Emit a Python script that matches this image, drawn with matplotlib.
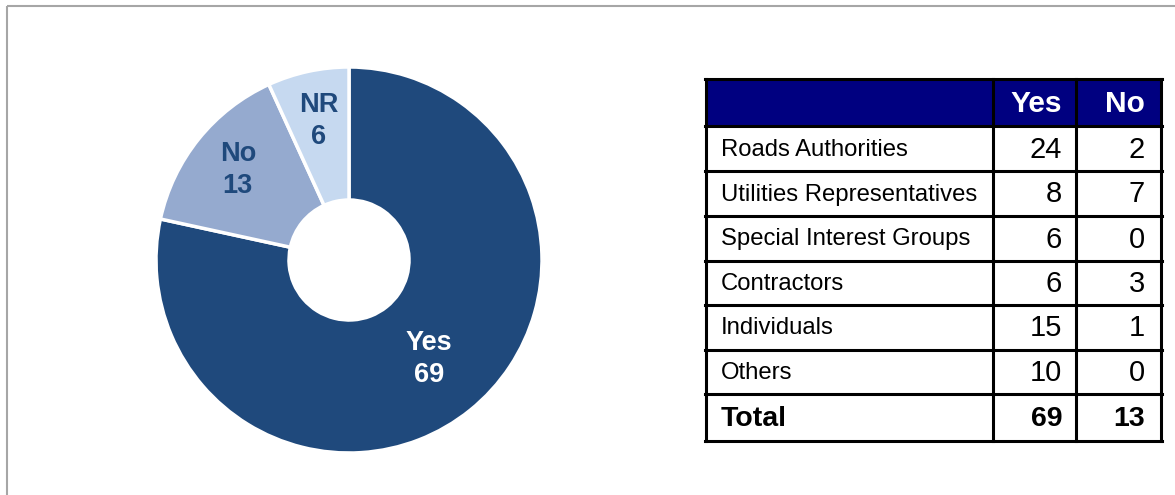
import matplotlib
matplotlib.use("Agg")
import matplotlib.pyplot as plt
from matplotlib.patches import Rectangle
import numpy as np

plt.rcParams['font.family'] = ['Liberation Sans', 'DejaVu Sans']

# Donut data
donut_labels = ["Yes", "No", "NR"]
donut_values = [69, 13, 6]
donut_colors = ["#1F497C", "#95AACF", "#C6D9F0"]
donut_text_colors = ["white", "#1F497C", "#1F497C"]

# Table data
table_header = ["", "Yes", "No"]
groups = ["Roads Authorities", "Utilities Representatives", "Special Interest Groups",
          "Contractors", "Individuals", "Others"]
yes_counts = [24, 8, 6, 6, 15, 10]
no_counts = [2, 7, 0, 3, 1, 0]
total_label = "Total"

W, H = 1175, 495
fig = plt.figure(figsize=(W / 100, H / 100), dpi=100)

# Full-figure pixel-space axes for frame and table
bg = fig.add_axes([0, 0, 1, 1])
bg.set_xlim(0, W)
bg.set_ylim(H, 0)
bg.axis("off")

# Outer gray frame (top and left edges visible)
frame_c = "#A6A6A6"
bg.plot([6.5, W], [5.5, 5.5], color=frame_c, lw=1.5, solid_capstyle="butt")
bg.plot([6.5, 6.5], [5.5, H], color=frame_c, lw=1.5, solid_capstyle="butt")

# Donut chart
cx, cy, R, r_in = 349, 260, 193, 60
half = 200
pie_ax = fig.add_axes([(cx - half) / W, (H - cy - half) / H, 2 * half / W, 2 * half / H])
wedges, _ = pie_ax.pie(donut_values, colors=donut_colors, startangle=90, counterclock=False,
                       radius=1.0,
                       wedgeprops=dict(width=(R - r_in) / R, edgecolor="white", linewidth=2.5))
lim = half / R
pie_ax.set_xlim(-lim, lim)
pie_ax.set_ylim(-lim, lim)
pie_ax.set_aspect("equal")

label_radii = [0.66, 0.74, 0.735]
for w, lab, val, tc, lr in zip(wedges, donut_labels, donut_values, donut_text_colors, label_radii):
    mid = np.deg2rad((w.theta1 + w.theta2) / 2)
    pie_ax.text(lr * np.cos(mid), lr * np.sin(mid), f"{lab}\n{val}", ha="center", va="center",
                color=tc, fontsize=19.5, fontweight="bold", linespacing=1.3)

# Table
col_x = [706, 993, 1076, 1161]
row_y = [79, 126, 171, 216, 261, 305, 350, 394, 441]
lw = 2.2
pad = [14, 16]

bg.add_patch(Rectangle((col_x[0], row_y[0]), col_x[-1] - col_x[0], row_y[1] - row_y[0],
                       facecolor="#000080", edgecolor="none"))

for j, h in enumerate(table_header):
    if h:
        bg.text(col_x[j + 1] - pad[j - 1], (row_y[0] + row_y[1]) / 2 + 1, h, ha="right",
                va="center", color="white", fontsize=21.5, fontweight="bold")

rows = list(zip(groups, yes_counts, no_counts))
rows.append((total_label, sum(yes_counts), sum(no_counts)))
for i, (g, y, n) in enumerate(rows):
    yc = (row_y[i + 1] + row_y[i + 2]) / 2 + 1
    is_total = g == total_label
    fw = "bold" if is_total else "normal"
    bg.text(col_x[0] + 15, yc, g, ha="left", va="center", color="black",
            fontsize=20.5 if is_total else 17.2, fontweight=fw)
    num_fs = 20.5 if is_total else 21
    bg.text(col_x[2] - pad[0], yc, str(y), ha="right", va="center", color="black",
            fontsize=num_fs, fontweight=fw)
    bg.text(col_x[3] - pad[1], yc, str(n), ha="right", va="center", color="black",
            fontsize=num_fs, fontweight=fw)

# Grid lines
for y in row_y:
    bg.plot([col_x[0] - lw / 2, col_x[-1] + lw / 2], [y, y], color="black", lw=lw,
            solid_capstyle="projecting")
for x in col_x:
    bg.plot([x, x], [row_y[0], row_y[-1]], color="black", lw=lw, solid_capstyle="projecting")

fig.savefig("out.png", dpi=100)
